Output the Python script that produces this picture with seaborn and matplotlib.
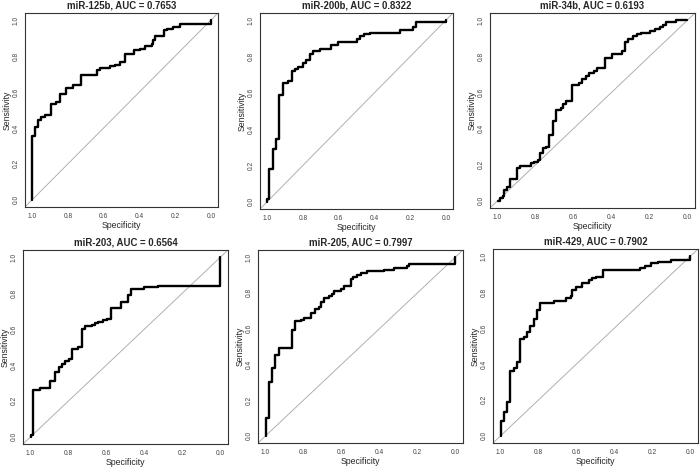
#!/usr/bin/env python3
""" ROC curves for six miRNAs, drawn in the style of pROC plots """

import pandas as pd
import matplotlib.pyplot as plt
import seaborn as sns

# ROC vertices: specificity (1 -> 0) and sensitivity
mir125b_spec = [1.0, 1.0, 0.985, 0.966, 0.948, 0.929, 0.897, 0.864, 0.845, 0.808, 0.774, 0.724,
                0.636, 0.621, 0.565, 0.537, 0.509, 0.481, 0.431, 0.397, 0.369, 0.332, 0.323,
                0.310, 0.263, 0.248, 0.211, 0.174, 0.043, 0.0]
mir125b_sens = [0.0, 0.354, 0.407, 0.444, 0.463, 0.47, 0.534, 0.547, 0.59, 0.62, 0.64, 0.694,
                0.724, 0.735, 0.743, 0.752, 0.765, 0.813, 0.832, 0.84, 0.854, 0.866, 0.89,
                0.914, 0.944, 0.951, 0.963, 0.981, 0.981, 1.0]

mir200b_spec = [1.0, 1.0, 0.987, 0.969, 0.950, 0.932, 0.914, 0.881, 0.862, 0.844, 0.826, 0.798,
                0.780, 0.761, 0.743, 0.706, 0.642, 0.606, 0.495, 0.481, 0.459, 0.422, 0.257,
                0.183, 0.169, 0.0]
mir200b_sens = [0.0, 0.013, 0.18, 0.29, 0.344, 0.59, 0.655, 0.667, 0.722, 0.731, 0.74, 0.762,
                0.78, 0.813, 0.831, 0.842, 0.862, 0.882, 0.895, 0.913, 0.922, 0.931, 0.949,
                0.962, 0.989, 1.0]

mir34b_spec = [1.0, 0.986, 0.974, 0.965, 0.948, 0.934, 0.900, 0.882, 0.822, 0.806, 0.787, 0.779,
               0.761, 0.744, 0.727, 0.709, 0.692, 0.666, 0.657, 0.640, 0.606, 0.571, 0.554,
               0.536, 0.519, 0.493, 0.476, 0.433, 0.398, 0.346, 0.329, 0.311, 0.285, 0.268,
               0.242, 0.199, 0.173, 0.147, 0.130, 0.112, 0.061, 0.0]
mir34b_sens = [0.0, 0.015, 0.027, 0.06, 0.078, 0.12, 0.18, 0.19, 0.207, 0.216, 0.225, 0.262,
               0.29, 0.30, 0.363, 0.44, 0.50, 0.513, 0.537, 0.55, 0.641, 0.65, 0.674,
               0.692, 0.707, 0.72, 0.738, 0.789, 0.811, 0.83, 0.879, 0.897, 0.912, 0.921,
               0.93, 0.94, 0.952, 0.962, 0.973, 0.989, 1.0, 1.0]

mir203_spec = [1.0, 1.0, 0.986, 0.948, 0.899, 0.870, 0.852, 0.835, 0.817, 0.800, 0.783, 0.748,
               0.730, 0.713, 0.678, 0.661, 0.643, 0.617, 0.600, 0.574, 0.522, 0.487, 0.470,
               0.400, 0.330, 0.0, 0.0]
mir203_sens = [0.0, 0.01, 0.26, 0.27, 0.31, 0.36, 0.39, 0.404, 0.42, 0.432, 0.49, 0.50,
               0.60, 0.615, 0.622, 0.633, 0.64, 0.648, 0.655, 0.715, 0.752, 0.79, 0.823,
               0.832, 0.84, 0.84, 1.0]

mir205_spec = [1.0, 1.0, 0.984, 0.967, 0.949, 0.932, 0.862, 0.845, 0.814, 0.796, 0.763, 0.742,
               0.718, 0.706, 0.692, 0.666, 0.648, 0.639, 0.605, 0.587, 0.552, 0.538, 0.521,
               0.500, 0.465, 0.378, 0.326, 0.256, 0.242, 0.0, 0.0]
mir205_sens = [0.0, 0.10, 0.30, 0.38, 0.45, 0.49, 0.59, 0.64, 0.65, 0.66, 0.69, 0.71,
               0.72, 0.75, 0.77, 0.78, 0.795, 0.81, 0.82, 0.84, 0.875, 0.89, 0.90,
               0.912, 0.92, 0.93, 0.94, 0.95, 0.96, 0.96, 1.0]

mir429_spec = [1.0, 1.0, 0.981, 0.964, 0.948, 0.931, 0.913, 0.896, 0.878, 0.861, 0.844, 0.826,
               0.809, 0.792, 0.717, 0.656, 0.630, 0.622, 0.604, 0.569, 0.535, 0.517, 0.495,
               0.462, 0.266, 0.240, 0.205, 0.170, 0.101, 0.0, 0.0]
mir429_sens = [0.0, 0.084, 0.13, 0.19, 0.36, 0.38, 0.41, 0.54, 0.55, 0.58, 0.61, 0.65,
               0.70, 0.74, 0.75, 0.77, 0.78, 0.81, 0.83, 0.85, 0.866, 0.88, 0.885,
               0.924, 0.935, 0.946, 0.96, 0.968, 0.978, 0.978, 1.0]

titles = ['miR-125b, AUC = 0.7653', 'miR-200b, AUC = 0.8322', 'miR-34b, AUC = 0.6193',
          'miR-203, AUC = 0.6564', 'miR-205, AUC = 0.7997', 'miR-429, AUC = 0.7902']
tick_vals = [0.0, 0.2, 0.4, 0.6, 0.8, 1.0]
tick_labels = ['0.0', '0.2', '0.4', '0.6', '0.8', '1.0']

curves = [(mir125b_spec, mir125b_sens), (mir200b_spec, mir200b_sens), (mir34b_spec, mir34b_sens),
          (mir203_spec, mir203_sens), (mir205_spec, mir205_sens), (mir429_spec, mir429_sens)]

# Panel boxes in pixels (left, top, right, bottom)
boxes = [(25, 13, 218, 207), (260, 13, 453, 209), (490, 13, 695, 208),
         (23, 250, 228, 444), (258, 250, 463, 443), (493, 249, 698, 443)]


def plot_roc(ax, spec, sens, title):
  """ Draw one ROC panel """
  df = pd.DataFrame({'Specificity': spec, 'Sensitivity': sens})
  ax.axline((0, 1), (1, 0), color='#b0b0b0', lw=0.7, zorder=1)
  sns.lineplot(data=df, x='Specificity', y='Sensitivity', ax=ax, estimator=None, sort=False,
               color='black', lw=1.7, drawstyle='steps-post', zorder=2)
  ax.set_xlim(1.04, -0.04)
  ax.set_ylim(-0.04, 1.04)
  ax.set_xticks(tick_vals)
  ax.set_xticklabels(tick_labels)
  ax.set_yticks(tick_vals)
  ax.set_yticklabels(tick_labels, rotation=90, va='center')
  ax.tick_params(axis='both', labelsize=4.8, labelcolor='#444444', length=2.5, width=0.6,
                 pad=1.5, color='#555555')
  ax.set_xlabel('Specificity', fontsize=6.3, labelpad=1)
  ax.set_ylabel('Sensitivity', fontsize=6.3, labelpad=0.5)
  for sp in ax.spines.values():
    sp.set_visible(True)
    sp.set_color('#333333')
    sp.set_linewidth(0.8)
  ax.set_title(title, fontsize=6.9, fontweight='bold', pad=3)


def main():
  sns.set_theme(style='white')
  plt.rcParams['font.family'] = ['Liberation Sans', 'DejaVu Sans']
  fig = plt.figure(figsize=(7, 4.72), dpi=100)
  W, H = 700, 472
  for (spec, sens), title, (x0, y0, x1, y1) in zip(curves, titles, boxes):
    ax = fig.add_axes([x0 / W, 1 - y1 / H, (x1 - x0) / W, (y1 - y0) / H])
    plot_roc(ax, spec, sens, title)
  fig.savefig('out.png', dpi=100)


if __name__ == '__main__':
  main()
